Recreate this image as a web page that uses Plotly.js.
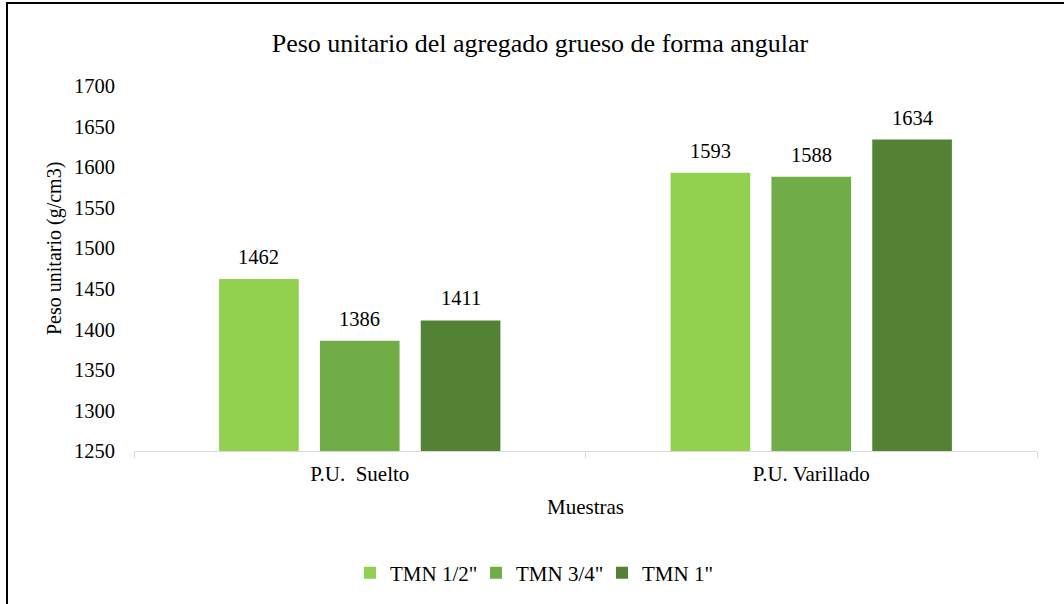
<!DOCTYPE html>
<html>
<head>
<meta charset="utf-8">
<script src="https://cdn.plot.ly/plotly-3.0.1.min.js"></script>
<style>
html,body{margin:0;padding:0;overflow:hidden;background:#fff;}
#frame{position:absolute;left:6px;top:2px;width:1200px;height:800px;border:2px solid #000;box-sizing:border-box;pointer-events:none;z-index:10;}
#chart{position:absolute;left:0;top:0;width:1064px;height:604px;}
</style>
</head>
<body>
<div id="chart"></div>
<div id="frame"></div>
<script>
const categories = ["P.U.  Suelto", "P.U. Varillado"];
const seriesNames = ['TMN 1/2"', 'TMN 3/4"', 'TMN 1"'];
const tmn12 = [1462, 1593];
const tmn34 = [1386, 1588];
const tmn1 = [1411, 1634];
const yTicks = [1250, 1300, 1350, 1400, 1450, 1500, 1550, 1600, 1650, 1700];
const colors = ["#92D050", "#70AD47", "#548235"];

const font = "Liberation Serif";
const values = [tmn12, tmn34, tmn1];
const bargap = 0.33;
const traces = values.map((v, i) => ({
  type: "bar",
  name: seriesNames[i],
  x: categories,
  y: v,
  marker: {color: colors[i]},
  hoverinfo: "none"
}));

// value labels above bars, placed at each bar's centre on the category axis
const slot = (1 - bargap) / values.length;
const annotations = [];
values.forEach((v, k) => {
  v.forEach((val, i) => {
    annotations.push({
      x: i + (k - (values.length - 1) / 2) * slot, y: val,
      xref: "x", yref: "y", text: String(val), showarrow: false,
      yanchor: "bottom", yshift: 9,
      font: {family: font, size: 20.5, color: "#000"}
    });
  });
});
annotations.push({
  text: "Peso unitario (g/cm3)", textangle: -90, showarrow: false,
  xref: "paper", yref: "paper", x: (54 - 134) / 903, y: (451 - 249) / 365,
  xanchor: "center", yanchor: "middle",
  font: {family: font, size: 20, color: "#000"}
});

const layout = {
  width: 1064, height: 604,
  margin: {l: 134, r: 27, t: 86, b: 153},
  paper_bgcolor: "#fff", plot_bgcolor: "#fff",
  barmode: "group",
  bargap: bargap,
  bargroupgap: 0.21,
  font: {family: font, size: 20, color: "#000"},
  title: {text: "Peso unitario del agregado grueso de forma angular", font: {family: font, size: 26, color: "#000"}, xref: "container", x: 0.5075, xanchor: "center", yref: "container", y: 1 - 43/604, yanchor: "middle"},
  xaxis: {
    showgrid: false, showline: true, linecolor: "#d9d9d9", linewidth: 1,
    ticks: "outside", tickson: "boundaries", ticklen: 6, tickcolor: "#d9d9d9",
    ticklabelstandoff: 4,
    tickfont: {family: font, size: 21, color: "#000"},
    title: {text: "Muestras", font: {family: font, size: 21, color: "#000"}, standoff: 14},
    zeroline: false
  },
  yaxis: {
    range: [1250, 1700], tickvals: yTicks, ticktext: yTicks.map(String),
    showgrid: false, showline: false, zeroline: false, ticks: "",
    ticklabelstandoff: 18,
    tickfont: {family: font, size: 20.5, color: "#000"}
  },
  annotations: annotations,
  showlegend: true,
  legend: {orientation: "h", xref: "container", x: 350 / 1064, xanchor: "left",
    yref: "container", y: 1 - 573 / 604, yanchor: "middle",
    entrywidth: 81, entrywidthmode: "pixels",
    font: {family: font, size: 21, color: "#000"}, itemwidth: 30, traceorder: "normal"}
};

Plotly.newPlot("chart", traces, layout, {displayModeBar: false, staticPlot: true});
</script>
</body>
</html>
